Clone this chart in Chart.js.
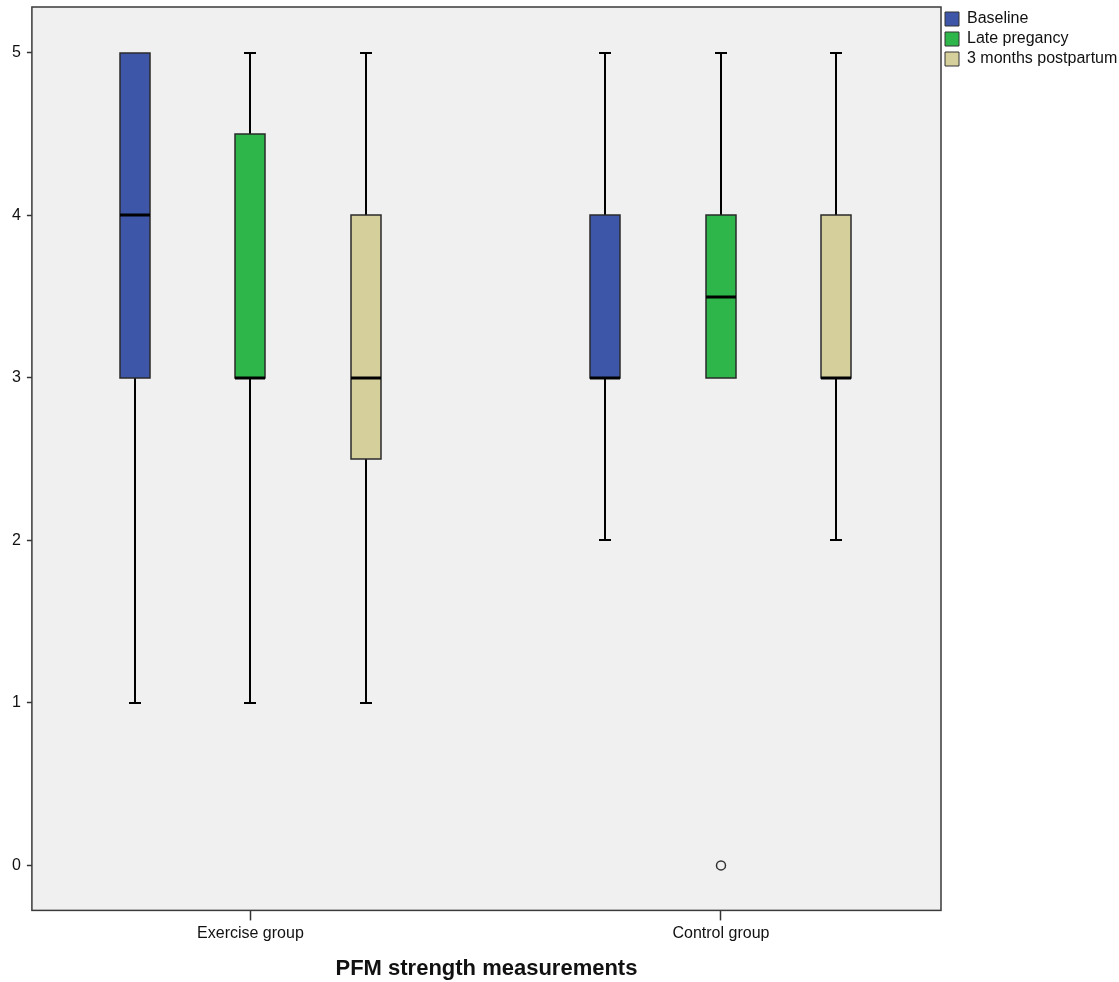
<!DOCTYPE html>
<html>
<head>
<meta charset="utf-8">
<script src="https://cdn.jsdelivr.net/npm/chart.js@4.4.1/dist/chart.umd.min.js"></script>
<style>
  html, body { margin: 0; padding: 0; background: #ffffff; }
  #wrap { width: 1119px; height: 982px; position: relative; }
</style>
</head>
<body>
<div id="wrap"><canvas id="boxChart"></canvas></div>
<script>
// data
const groups = ["Exercise group", "Control group"];
const seriesNames = ["Baseline", "Late pregancy", "3 months postpartum"];
// [min, q1, median, q3, max] per group
const baselineStats = [[1, 3, 4, 5, 5], [2, 3, 3, 4, 5]];
const lateStats = [[1, 3, 3, 4.5, 5], [3, 3, 3.5, 4, 5]];
const postpartumStats = [[1, 2.5, 3, 4, 5], [2, 3, 3, 4, 5]];
const baselineOutliers = [[], []];
const lateOutliers = [[], [0]];
const postpartumOutliers = [[], []];
const yTicks = [0, 1, 2, 3, 4, 5];
const xTicks = [0, 1];

const seriesColors = ["#3d56a8", "#2eb64b", "#d4cf9b"];
const seriesOffsets = [-0.2455, 0, 0.2455];
const boxHalf = 0.032;
const capHalf = 0.013;
const fontFamily = "Arial, 'Liberation Sans', sans-serif";

const allStats = [baselineStats, lateStats, postpartumStats];
const allOutliers = [baselineOutliers, lateOutliers, postpartumOutliers];

const datasets = seriesNames.map(function (name, i) {
    return {
        label: name,
        data: allStats[i].map(function (s, g) { return { x: g + seriesOffsets[i], y: s[2] }; }),
        stats: allStats[i],
        outliers: allOutliers[i],
        offset: seriesOffsets[i],
        backgroundColor: seriesColors[i],
        borderColor: "#333333",
        borderWidth: 1,
        pointRadius: 0,
        pointHoverRadius: 0
    };
});

const boxPlot = {
    id: "boxPlot",
    beforeDraw(chart) {
        const { ctx, chartArea } = chart;
        ctx.save();
        ctx.fillStyle = "#f0f0f0";
        ctx.fillRect(chartArea.left, chartArea.top, chartArea.right - chartArea.left, chartArea.bottom - chartArea.top);
        ctx.restore();
    },
    afterDatasetsDraw(chart) {
        const { ctx, chartArea, scales } = chart;
        const x = scales.x, y = scales.y;
        const halfW = Math.round(x.getPixelForValue(boxHalf) - x.getPixelForValue(0));
        const capW = Math.round(x.getPixelForValue(capHalf) - x.getPixelForValue(0));
        ctx.save();
        chart.data.datasets.forEach(function (ds) {
            ds.stats.forEach(function (s, g) {
                const cx = Math.round(x.getPixelForValue(g + ds.offset));
                const yMin = Math.round(y.getPixelForValue(s[0]));
                const yQ1 = Math.round(y.getPixelForValue(s[1]));
                const yMed = Math.round(y.getPixelForValue(s[2]));
                const yQ3 = Math.round(y.getPixelForValue(s[3]));
                const yMax = Math.round(y.getPixelForValue(s[4]));

                // whiskers
                ctx.strokeStyle = "#000000";
                ctx.lineWidth = 2;
                ctx.beginPath();
                if (s[4] > s[3]) {
                    ctx.moveTo(cx, yQ3); ctx.lineTo(cx, yMax);
                    ctx.moveTo(cx - capW, yMax); ctx.lineTo(cx + capW, yMax);
                }
                if (s[0] < s[1]) {
                    ctx.moveTo(cx, yQ1); ctx.lineTo(cx, yMin);
                    ctx.moveTo(cx - capW, yMin); ctx.lineTo(cx + capW, yMin);
                }
                ctx.stroke();

                // box
                ctx.fillStyle = ds.backgroundColor;
                ctx.fillRect(cx - halfW, yQ3, halfW * 2, yQ1 - yQ3);
                ctx.strokeStyle = "#2a2a2a";
                ctx.lineWidth = 1.5;
                ctx.strokeRect(cx - halfW, yQ3, halfW * 2, yQ1 - yQ3);

                // median
                ctx.strokeStyle = "#000000";
                ctx.lineWidth = 3;
                ctx.beginPath();
                ctx.moveTo(cx - halfW, yMed);
                ctx.lineTo(cx + halfW, yMed);
                ctx.stroke();

                // outliers
                ds.outliers[g].forEach(function (v) {
                    ctx.strokeStyle = "#333333";
                    ctx.lineWidth = 1.5;
                    ctx.beginPath();
                    ctx.arc(cx, y.getPixelForValue(v), 4.5, 0, Math.PI * 2);
                    ctx.stroke();
                });
            });
        });
        // plot frame
        ctx.strokeStyle = "#3a3a3a";
        ctx.lineWidth = 1.5;
        ctx.strokeRect(chartArea.left, chartArea.top, chartArea.right - chartArea.left, chartArea.bottom - chartArea.top);
        ctx.restore();
    }
};

const chart = new Chart(document.getElementById("boxChart"), {
    type: "scatter",
    data: { datasets: datasets },
    options: {
        responsive: true,
        maintainAspectRatio: false,
        animation: false,
        layout: { padding: { left: 6, top: 7, right: 0, bottom: 0 } },
        plugins: {
            tooltip: { enabled: false },
            legend: {
                position: "right",
                align: "start",
                maxWidth: 178,
                labels: {
                    boxWidth: 14,
                    boxHeight: 14,
                    padding: 4,
                    color: "#111111",
                    font: { family: fontFamily, size: 16 },
                    generateLabels: function (c) {
                        return c.data.datasets.map(function (ds, i) {
                            return {
                                text: ds.label,
                                fillStyle: ds.backgroundColor,
                                strokeStyle: "#333333",
                                lineWidth: 1,
                                hidden: false,
                                datasetIndex: i,
                                fontColor: "#111111"
                            };
                        });
                    }
                }
            }
        },
        scales: {
            x: {
                type: "linear",
                min: -0.4644,
                max: 1.4676,
                afterBuildTicks: function (scale) {
                    scale.ticks = xTicks.map(function (v) { return { value: v }; });
                },
                afterFit: function (scale) {
                    scale.paddingLeft = 0;
                    scale.paddingRight = 0;
                },
                ticks: {
                    padding: 4,
                    maxRotation: 0,
                    color: "#111111",
                    font: { family: fontFamily, size: 16 },
                    callback: function (v) { return groups[v]; }
                },
                grid: { drawOnChartArea: false, tickLength: 10, tickColor: "#333333", tickWidth: 1.5 },
                border: { display: false },
                title: {
                    display: true,
                    text: "PFM strength measurements",
                    color: "#111111",
                    font: { family: fontFamily, size: 22, weight: "bold" },
                    padding: { top: 8, bottom: 0 }
                }
            },
            y: {
                type: "linear",
                min: -0.277,
                max: 5.283,
                afterBuildTicks: function (scale) {
                    scale.ticks = yTicks.map(function (v) { return { value: v }; });
                },
                afterFit: function (scale) {
                    scale.paddingTop = 0;
                    scale.paddingBottom = 0;
                },
                ticks: {
                    padding: 6,
                    color: "#111111",
                    font: { family: fontFamily, size: 16 }
                },
                grid: { drawOnChartArea: false, tickLength: 5, tickColor: "#333333", tickWidth: 1.5 },
                border: { display: false }
            }
        }
    },
    plugins: [boxPlot]
});
</script>
</body>
</html>
